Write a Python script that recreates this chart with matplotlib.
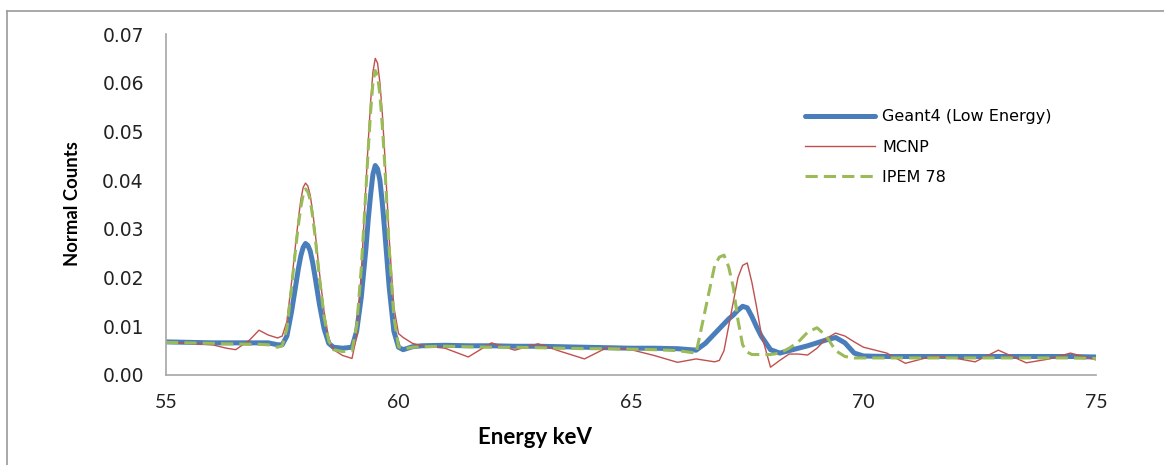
import matplotlib
matplotlib.use("Agg")
import matplotlib.pyplot as plt
from matplotlib.lines import Line2D

# energy grid (keV)
energy = [55.0, 55.5, 56.0, 56.3, 56.5, 56.8, 57.0, 57.2, 57.4, 57.5,
          57.6, 57.7, 57.8, 57.85, 57.9, 57.95, 58.0, 58.05, 58.1, 58.15,
          58.2, 58.3, 58.4, 58.5, 58.6, 58.8, 59.0, 59.1, 59.2, 59.3,
          59.35, 59.4, 59.45, 59.5, 59.55, 59.6, 59.65, 59.7, 59.8, 59.9,
          60.0, 60.1, 60.3, 60.5, 61.0, 61.5, 62.0, 62.5, 63.0, 63.5,
          64.0, 64.5, 65.0, 65.5, 66.0, 66.4, 66.6, 66.8, 66.9, 67.0,
          67.1, 67.2, 67.3, 67.4, 67.5, 67.6, 67.7, 67.8, 68.0, 68.2,
          68.4, 68.6, 68.8, 69.0, 69.2, 69.4, 69.6, 69.8, 70.0, 70.5,
          70.9, 71.5, 72.0, 72.4, 72.9, 73.5, 74.0, 74.45, 75.0]

geant4 = [0.0068, 0.0067, 0.0066, 0.0066, 0.0066, 0.0066, 0.0066, 0.0066, 0.0062, 0.0062,
          0.0080, 0.0130, 0.0190, 0.0220, 0.0245, 0.0262, 0.0270, 0.0266, 0.0255, 0.0233,
          0.0205, 0.0145, 0.0095, 0.0065, 0.0057, 0.0055, 0.0057, 0.0090, 0.0160, 0.0260,
          0.0320, 0.0370, 0.0412, 0.0430, 0.0423, 0.0400, 0.0355, 0.0300, 0.0180, 0.0090,
          0.0057, 0.0052, 0.0058, 0.0060, 0.0061, 0.0060, 0.0060, 0.0059, 0.0059, 0.0058,
          0.0057, 0.0056, 0.0055, 0.0055, 0.0054, 0.0051, 0.0065, 0.0085, 0.0095, 0.0105,
          0.0115, 0.0123, 0.0133, 0.0141, 0.0138, 0.0120, 0.0099, 0.0080, 0.0052, 0.0045,
          0.0050, 0.0055, 0.0060, 0.0066, 0.0072, 0.0077, 0.0066, 0.0045, 0.0039, 0.0038,
          0.0038, 0.0038, 0.0038, 0.0038, 0.0038, 0.0038, 0.0038, 0.0038, 0.0037]

mcnp = [0.0067, 0.0065, 0.0062, 0.0055, 0.0052, 0.0072, 0.0092, 0.0082, 0.0076, 0.0080,
        0.0110, 0.0190, 0.0280, 0.0323, 0.0360, 0.0385, 0.0394, 0.0388, 0.0370, 0.0338,
        0.0300, 0.0210, 0.0130, 0.0075, 0.0052, 0.0040, 0.0034, 0.0080, 0.0210, 0.0390,
        0.0480, 0.0560, 0.0622, 0.0650, 0.0640, 0.0600, 0.0540, 0.0460, 0.0280, 0.0140,
        0.0085, 0.0077, 0.0065, 0.0060, 0.0055, 0.0037, 0.0066, 0.0051, 0.0064, 0.0048,
        0.0033, 0.0057, 0.0052, 0.0040, 0.0026, 0.0033, 0.0030, 0.0027, 0.0030, 0.0050,
        0.0100, 0.0150, 0.0200, 0.0225, 0.0230, 0.0190, 0.0140, 0.0085, 0.0016, 0.0030,
        0.0043, 0.0043, 0.0041, 0.0055, 0.0075, 0.0086, 0.0080, 0.0068, 0.0057, 0.0045,
        0.0024, 0.0039, 0.0034, 0.0027, 0.0051, 0.0025, 0.0033, 0.0045, 0.0031]

ipem78 = [0.0067, 0.0066, 0.0065, 0.0064, 0.0064, 0.0063, 0.0063, 0.0062, 0.0057, 0.0060,
          0.0095, 0.0180, 0.0270, 0.0310, 0.0345, 0.0370, 0.0382, 0.0376, 0.0360, 0.0328,
          0.0290, 0.0200, 0.0120, 0.0070, 0.0052, 0.0048, 0.0050, 0.0100, 0.0220, 0.0380,
          0.0465, 0.0540, 0.0600, 0.0625, 0.0615, 0.0575, 0.0515, 0.0440, 0.0260, 0.0120,
          0.0058, 0.0053, 0.0057, 0.0058, 0.0059, 0.0058, 0.0057, 0.0057, 0.0056, 0.0055,
          0.0054, 0.0054, 0.0053, 0.0052, 0.0050, 0.0045, 0.0135, 0.0225, 0.0242, 0.0246,
          0.0222, 0.0180, 0.0113, 0.0062, 0.0047, 0.0042, 0.0042, 0.0042, 0.0042, 0.0045,
          0.0055, 0.0068, 0.0088, 0.0097, 0.0080, 0.0050, 0.0038, 0.0035, 0.0035, 0.0035,
          0.0035, 0.0035, 0.0035, 0.0035, 0.0035, 0.0035, 0.0035, 0.0035, 0.0034]

labels = ["Geant4 (Low Energy)", "MCNP", "IPEM 78"]
x_ticks = [55, 60, 65, 70, 75]
y_ticks = [0.00, 0.01, 0.02, 0.03, 0.04, 0.05, 0.06, 0.07]

fig = plt.figure(figsize=(11.64, 4.65), dpi=100)
ax = fig.add_axes([166 / 1164, 1 - 375 / 465, (1096 - 166) / 1164, (375 - 34) / 465])

ax.plot(energy, geant4, color="#4A7EBB", lw=3.6, label=labels[0],
        solid_joinstyle="round", solid_capstyle="round")
ax.plot(energy, mcnp, color="#C0504D", lw=1.0, label=labels[1], solid_joinstyle="round")
ax.plot(energy, ipem78, color="#9BBB59", lw=2.2, ls=(0, (4, 2)), label=labels[2])

ax.set_xlim(55, 75)
ax.set_ylim(0, 0.07)
ax.set_xticks(x_ticks)
ax.set_yticks(y_ticks)
ax.set_yticklabels(["%.2f" % v for v in y_ticks], fontsize=13.5, family="DejaVu Sans", color="#222222")
ax.set_xticklabels([str(v) for v in x_ticks], fontsize=14, family="Lato", color="#222222")
ax.tick_params(axis="both", length=0)
ax.tick_params(axis="y", pad=16)
ax.tick_params(axis="x", pad=14)

for s in ["top", "right"]:
    ax.spines[s].set_visible(False)
for s in ["left", "bottom"]:
    ax.spines[s].set_color("#A6A6A6")
    ax.spines[s].set_linewidth(1.2)

fig.text(535 / 1164, 1 - 437 / 465, "Energy keV", ha="center", va="center",
         fontsize=16, fontweight="bold", family="Lato")
fig.text(72 / 1164, 1 - 204 / 465, "Normal Counts", ha="center", va="center",
         rotation=90, fontsize=13.3, fontweight="bold", family="Lato")

ax.legend(loc="center left", bbox_to_anchor=(805 / 1164, 1 - 147 / 465),
          bbox_transform=fig.transFigure, frameon=False, borderpad=0,
          borderaxespad=0, handlelength=4.4, handletextpad=0.45, labelspacing=0.95,
          prop={"family": "DejaVu Sans", "size": 11.5})

# outer frame (only top and left edges visible in the original)
fig.add_artist(Line2D([7 / 1164, 7 / 1164], [0, 1 - 11 / 465], color="#9A9A9A", lw=1.2))
fig.add_artist(Line2D([7 / 1164, 1], [1 - 11 / 465, 1 - 11 / 465], color="#9A9A9A", lw=1.2))

fig.savefig("out.png", dpi=100)
